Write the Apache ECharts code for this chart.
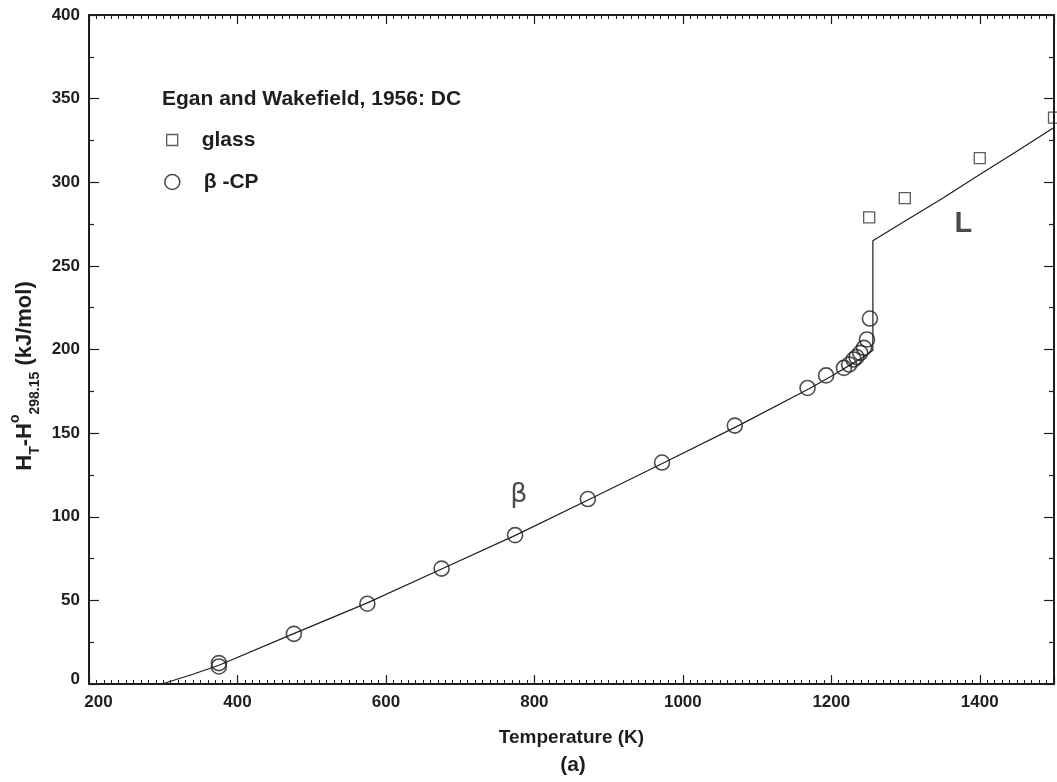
<!DOCTYPE html>
<html><head><meta charset="utf-8">
<script src="https://cdn.jsdelivr.net/npm/echarts@6/dist/echarts.min.js"></script>
<style>html,body{margin:0;padding:0;background:#fff}#c{width:1057px;height:782px}</style>
</head><body><div id="c"></div>
<script>
// ---- data ----
const xTickLabels = [200, 400, 600, 800, 1000, 1200, 1400];
const yTickLabels = [0, 50, 100, 150, 200, 250, 300, 350, 400];
// beta-CP measurements (Egan and Wakefield, 1956: DC)
const cpT = [375, 375, 476, 575, 675, 774, 872, 972, 1070, 1168, 1193, 1217, 1224, 1230, 1234, 1239, 1244, 1248, 1252];
const cpH = [10.5, 12.5, 30, 48, 69, 89, 110.6, 132.4, 154.5, 177, 184.5, 189, 191, 194, 195.5, 198, 201, 206, 218.5];
// glass measurements
const glassT = [1251, 1299, 1400, 1500];
const glassH = [279, 290.5, 314.4, 338.6];
// assessed curve (beta, then melting jump, then liquid L)
const curveT = [298.15, 340, 375, 475, 575, 675, 775, 875, 975, 1075, 1170, 1200, 1230, 1245, 1256, 1256, 1300, 1350, 1400, 1450, 1500];
const curveH = [0, 5.8, 11.2, 30, 48.5, 68.8, 89, 110.6, 132.4, 154.5, 176.5, 184, 192, 196, 199.5, 265, 277, 290.5, 304.6, 318.5, 332.7];
// phase labels
const phaseNames = ['β', 'L'];
const phaseT = [779, 1378];
const phaseH = [113, 275];

const ink = '#1e1e1e';
const ff = '"Liberation Sans", Arial, Helvetica, sans-serif';
const zip = (a, b) => a.map((v, i) => [v, b[i]]);

const baseX = {
  type: 'value', min: 200, max: 1500, gridIndex: 0,
  splitLine: { show: false }, minorSplitLine: { show: false }
};
const baseY = {
  type: 'value', min: 0, max: 400, interval: 50, gridIndex: 0,
  splitLine: { show: false }, minorSplitLine: { show: false },
  axisLine: { show: true, onZero: false, lineStyle: { color: ink, width: 2 } },
  axisTick: { show: true, inside: true, length: 10, lineStyle: { color: ink, width: 1.2 } },
  minorTick: { show: true, splitNumber: 2, length: 5, lineStyle: { color: ink, width: 1.2 } }
};
const lblFont = { color: ink, fontSize: 17, fontWeight: 'bold', fontFamily: ff };

const chart = echarts.init(document.getElementById('c'), null, { renderer: 'canvas' });
chart.setOption({
  animation: false,
  backgroundColor: '#fff',
  grid: { left: 89, top: 15, width: 968, height: 669, containLabel: false },
  xAxis: [
    Object.assign({}, baseX, {
      position: 'bottom', interval: 100,
      axisLine: { show: true, onZero: false, lineStyle: { color: ink, width: 2 } },
      axisTick: { show: true, inside: true, length: 4, lineStyle: { color: ink, width: 1 } },
      minorTick: { show: true, splitNumber: 10, length: 4, lineStyle: { color: ink, width: 1 } },
      axisLabel: Object.assign({
        show: true, margin: 10,
        formatter: v => xTickLabels.includes(v) ? (v === xTickLabels[0] ? '{first|' + v + '}' : String(v)) : '',
        rich: { first: Object.assign({ padding: [0, 0, 0, 19] }, lblFont) }
      }, lblFont),
      name: 'Temperature (K)', nameLocation: 'middle', nameGap: 44,
      nameTextStyle: { color: ink, fontSize: 19, fontWeight: 'bold', fontFamily: ff }
    }),
    Object.assign({}, baseX, {
      position: 'bottom', interval: 200,
      axisLine: { show: false, onZero: false },
      axisTick: { show: true, inside: true, length: 9, lineStyle: { color: ink, width: 1.2 } },
      axisLabel: { show: false }
    }),
    Object.assign({}, baseX, {
      position: 'top', interval: 100,
      axisLine: { show: true, onZero: false, lineStyle: { color: ink, width: 2 } },
      axisTick: { show: true, inside: true, length: 4, lineStyle: { color: ink, width: 1 } },
      minorTick: { show: true, splitNumber: 10, length: 4, lineStyle: { color: ink, width: 1 } },
      axisLabel: { show: false }
    }),
    Object.assign({}, baseX, {
      position: 'top', interval: 200,
      axisLine: { show: false, onZero: false },
      axisTick: { show: true, inside: true, length: 9, lineStyle: { color: ink, width: 1.2 } },
      axisLabel: { show: false }
    })
  ],
  yAxis: [
    Object.assign({}, baseY, {
      position: 'left',
      axisLabel: Object.assign({
        show: true, margin: 9,
        formatter: v => yTickLabels.includes(v) ? (v === 0 ? '{zero|0}' : String(v)) : '',
        rich: { zero: Object.assign({ padding: [0, 0, 10, 0] }, lblFont) }
      }, lblFont)
    }),
    Object.assign({}, baseY, { position: 'right', axisLabel: { show: false } })
  ],
  legend: [
    {
      data: ['glass'], orient: 'vertical', left: 166, top: 128, padding: 0,
      itemWidth: 11, itemHeight: 11, selectedMode: false,
      itemStyle: { color: 'rgba(0,0,0,0)', borderColor: '#333', borderWidth: 1.3 },
      textStyle: { color: ink, fontSize: 21, fontWeight: 'bold', fontFamily: ff, lineHeight: 24, padding: [0, 0, 0, 19] }
    },
    {
      data: ['β -CP'], orient: 'vertical', left: 164, top: 170, padding: 0,
      itemWidth: 15, itemHeight: 15, selectedMode: false,
      itemStyle: { color: 'rgba(0,0,0,0)', borderColor: '#222', borderWidth: 1.6 },
      textStyle: { color: ink, fontSize: 21, fontWeight: 'bold', fontFamily: ff, lineHeight: 24, padding: [0, 0, 0, 19] }
    }
  ],
  graphic: [
    {
      type: 'text', x: 162, y: 99, silent: true,
      style: { text: 'Egan and Wakefield, 1956: DC', fill: ink, font: 'bold 21px ' + ff, align: 'left', verticalAlign: 'middle' }
    },
    {
      type: 'text', x: 25, y: 376, rotation: Math.PI / 2, silent: true,
      style: {
        text: '{m|H}{s|T}{m|-H}{p|o}{s|298.15}{m| (kJ/mol)}',
        align: 'center', verticalAlign: 'middle',
        rich: {
          m: { fontSize: 22, fontWeight: 'bold', fontFamily: ff, fill: ink, lineHeight: 34 },
          s: { fontSize: 14, fontWeight: 'bold', fontFamily: ff, fill: ink, lineHeight: 18, verticalAlign: 'bottom' },
          p: { fontSize: 14, fontWeight: 'bold', fontFamily: ff, fill: ink, lineHeight: 14, verticalAlign: 'top' }
        }
      }
    },
    {
      type: 'text', x: 573, y: 765, silent: true,
      style: { text: '(a)', fill: ink, font: 'bold 21px ' + ff, align: 'center', verticalAlign: 'middle' }
    }
  ],
  series: [
    {
      type: 'line', name: 'assessed', data: zip(curveT, curveH), xAxisIndex: 0, yAxisIndex: 0,
      symbol: 'none', smooth: false, lineStyle: { color: ink, width: 1.2 }, z: 2, silent: true
    },
    {
      type: 'scatter', name: 'glass', data: zip(glassT, glassH), xAxisIndex: 0, yAxisIndex: 0,
      symbol: 'rect', symbolSize: 11, clip: false,
      itemStyle: { color: 'rgba(0,0,0,0)', borderColor: '#333', borderWidth: 1.3 }, z: 3
    },
    {
      type: 'scatter', name: 'β -CP', data: zip(cpT, cpH), xAxisIndex: 0, yAxisIndex: 0,
      symbol: 'circle', symbolSize: 15, clip: false,
      itemStyle: { color: 'rgba(0,0,0,0)', borderColor: '#222', borderWidth: 1.6 }, z: 3
    },
    {
      type: 'scatter', name: 'phases', xAxisIndex: 0, yAxisIndex: 0, silent: true,
      data: phaseNames.map((n, i) => ({
        name: n, value: [phaseT[i], phaseH[i]],
        label: n === 'L'
          ? { fontSize: 29, fontWeight: 'bold', fontFamily: ff }
          : { fontSize: 27, fontWeight: 'normal', fontFamily: '"DejaVu Sans", sans-serif' }
      })),
      symbolSize: 1, itemStyle: { color: 'rgba(0,0,0,0)' },
      label: { show: true, position: 'inside', formatter: p => p.name, color: ink }
    }
  ]
});
</script></body></html>
